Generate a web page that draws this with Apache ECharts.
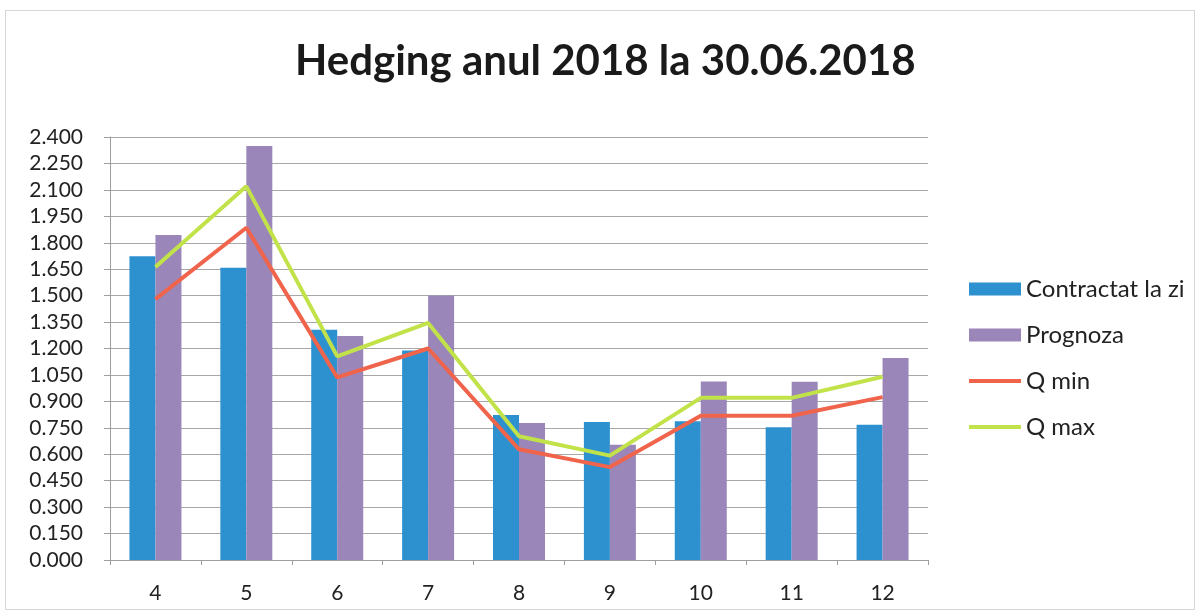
<!DOCTYPE html>
<html>
<head>
<meta charset="utf-8">
<script src="https://cdn.jsdelivr.net/npm/echarts@6/dist/echarts.min.js"></script>
<style>
html, body { margin: 0; padding: 0; background: #fff; }
#main { width: 1198px; height: 616px; }
#frame { position: absolute; left: 5px; top: 10px; width: 1188px; height: 598px; border: 1px solid #d6d6d6; pointer-events: none; }
</style>
</head>
<body>
<div id="main"></div>
<div id="frame"></div>
<script>
// luni
var months = ['4', '5', '6', '7', '8', '9', '10', '11', '12'];
// cantitati
var contractat = [1.723, 1.658, 1.307, 1.189, 0.823, 0.783, 0.787, 0.753, 0.768];
var prognoza   = [1.844, 2.349, 1.271, 1.501, 0.778, 0.654, 1.013, 1.011, 1.146];
var qMin       = [1.480, 1.885, 1.036, 1.200, 0.628, 0.527, 0.818, 0.818, 0.924];
var qMax       = [1.662, 2.120, 1.155, 1.345, 0.702, 0.592, 0.920, 0.920, 1.040];

var font = 'Lato';
var lineIcon = 'path://M0,0H52V4H0Z';
var myChart = echarts.init(document.getElementById('main'));

var option = {
	backgroundColor : '#ffffff',
	animation : false,
	title : {
		text : 'Hedging anul 2018 la 30.06.2018',
		left : 290,
		top : 35,
		textStyle : {
			fontFamily : font,
			fontWeight : 'bold',
			fontSize : 42,
			color : '#1a1a1a'
		}
	},
	legend : {
		orient : 'vertical',
		left : 964,
		top : 272,
		itemWidth : 52,
		itemHeight : 13,
		itemGap : 22,
		symbolKeepAspect : true,
		textStyle : {
			fontFamily : font,
			fontSize : 24,
			lineHeight : 24,
			color : '#222'
		},
		data : [
			{ name : 'Contractat la zi', icon : 'rect' },
			{ name : 'Prognoza', icon : 'rect' },
			{ name : 'Q min', icon : lineIcon },
			{ name : 'Q max', icon : lineIcon }
		]
	},
	grid : {
		left : 110,
		right : 270,
		top : 137,
		bottom : 56
	},
	xAxis : {
		type : 'category',
		data : months,
		axisLine : { lineStyle : { color : '#9e9e9e' } },
		axisTick : { show : true, length : 5, lineStyle : { color : '#9e9e9e' } },
		axisLabel : {
			fontFamily : font,
			fontSize : 21,
			color : '#222',
			margin : 23
		}
	},
	yAxis : {
		type : 'value',
		min : 0,
		max : 2.4,
		interval : 0.15,
		axisLine : { show : true, lineStyle : { color : '#9e9e9e' } },
		axisTick : { show : true, length : 6, lineStyle : { color : '#9e9e9e' } },
		splitLine : { lineStyle : { color : '#a8a8a8' } },
		axisLabel : {
			fontFamily : font,
			fontSize : 21,
			color : '#222',
			margin : 27,
			formatter : function(v) { return v.toFixed(3); }
		}
	},
	series : [ {
		name : 'Contractat la zi',
		type : 'bar',
		data : contractat,
		barWidth : 26,
		barGap : '0%',
		itemStyle : { color : '#2d91d0' }
	}, {
		name : 'Prognoza',
		type : 'bar',
		data : prognoza,
		barWidth : 26,
		itemStyle : { color : '#9a86b8' }
	}, {
		name : 'Q min',
		type : 'line',
		data : qMin,
		symbol : 'none',
		lineStyle : { color : '#f0644c', width : 4 },
		itemStyle : { color : '#f0644c' }
	}, {
		name : 'Q max',
		type : 'line',
		data : qMax,
		symbol : 'none',
		lineStyle : { color : '#c2e24a', width : 4 },
		itemStyle : { color : '#c2e24a' }
	} ]
};

myChart.setOption(option);
</script>
</body>
</html>
